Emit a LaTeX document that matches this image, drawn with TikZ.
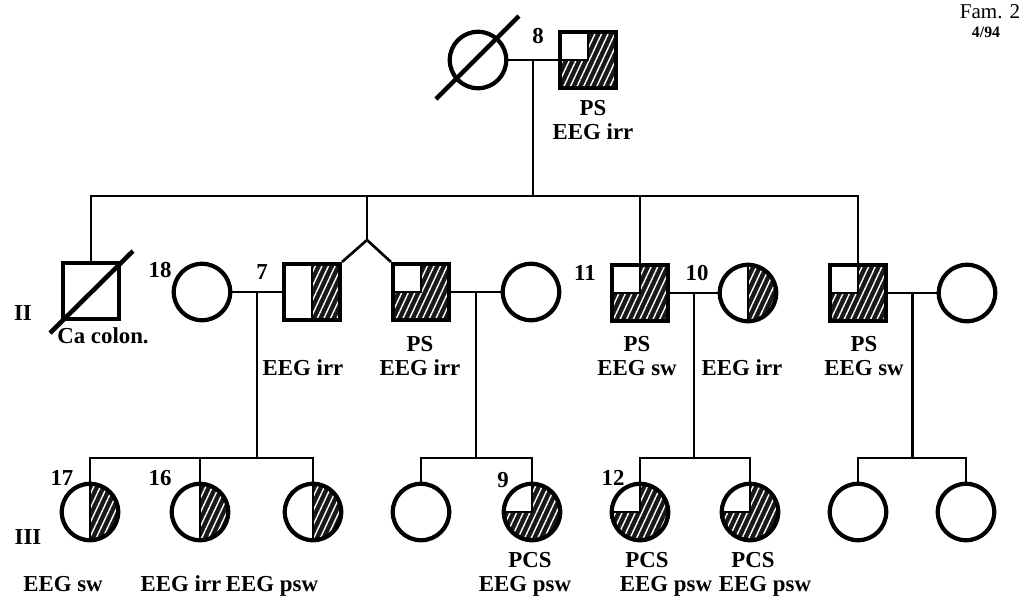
\documentclass[tikz,border=0pt]{standalone}
\usepackage{fontspec}
\setmainfont{Liberation Serif}
\usetikzlibrary{calc, patterns.meta}

\newcommand{\pbb}{path picture bounding box}
\newcommand{\hatchfill}[1]{%
  \fill[black!90] #1;
  \fill[pattern={Lines[angle=65,distance=3.4pt,line width=0.8pt]}, pattern color=white] #1;}

\begin{document}
\begin{tikzpicture}[
    x=0.02cm, y=-0.02cm,
    person/.style={draw, line width=2.4pt, inner sep=0pt, fill=white},
    male/.style={person, rectangle, minimum size=1.12cm},
    female/.style={person, circle, minimum size=1.13cm},
    quarter/.style={path picture={
        \hatchfill{(\pbb.south west) rectangle (\pbb.north east)}
        \fill[white] (\pbb.north west) rectangle (\pbb.center);
        \draw[line width=1.4pt] (\pbb.north) |- (\pbb.west);}},
    half/.style={path picture={
        \hatchfill{(\pbb.south) rectangle (\pbb.north east)}
        \draw[line width=1.4pt] (\pbb.north) -- (\pbb.south);}},
    line/.style={line width=1.5pt},
    slash/.style={line width=2.6pt},
    lbl/.style={font=\fontsize{13}{14}\selectfont\bfseries, inner sep=0pt, align=center},
  ]
  \useasboundingbox (0,0) rectangle (1029,603);

  % generation I
  \node[female] (g1f) at (478,60) {};
  \node[male, quarter] (g1m) at (588,60) {};
  \draw[slash] ($(g1f)+(-42,39)$) -- ($(g1f)+(41,-44)$);
  \node[lbl] (n8) at (538,36) {8};
  \node[lbl] (g1mtxt) at (593,120) {PS\\EEG irr};
  \node[font=\fontsize{12}{12}\selectfont, inner sep=0pt] (fam) at (990,12) {Fam. 2};
  \node[lbl, font=\fontsize{9}{9}\selectfont\bfseries] (famdate) at (986,32) {4/94};

  \draw[line] (g1f.east) -- (g1m.west);
  \coordinate (m1) at ($(g1f.east)!0.5!(g1m.west)$);
  \coordinate (k1) at (m1 |- 0,196);
  \draw[line] (m1) -- (k1);

  % generation II
  \node[lbl] (gII) at (23,313) {II};
  \node[male] (c1) at (91,291) {};
  \draw[slash] ($(c1)+(-41,42)$) -- ($(c1)+(42,-40)$);
  \node[lbl] (c1txt) at (103,336) {Ca colon.};
  \node[female] (w18) at (202,292) {};
  \node[lbl] (n18) at (160,270) {18};
  \node[lbl] (n7) at (262,272) {7};
  \node[male, half] (t1) at (312,292) {};
  \node[male, quarter] (t2) at (421,292) {};
  \node[female] (w2) at (531,292) {};
  \node[lbl] (n11) at (585,273) {11};
  \node[male, quarter] (s11) at (640,293) {};
  \node[lbl] (n10) at (697,273) {10};
  \node[female, half] (w10) at (748,293) {};
  \node[male, quarter] (s5) at (858,293) {};
  \node[female] (w5) at (967,293) {};

  \node[lbl] (t1txt) at (303,368) {EEG irr};
  \node[lbl] (t2txt) at (420,356) {PS\\EEG irr};
  \node[lbl] (s11txt) at (637,356) {PS\\EEG sw};
  \node[lbl] (w10txt) at (742,368) {EEG irr};
  \node[lbl] (s5txt) at (864,356) {PS\\EEG sw};

  \draw[line] (c1.north) |- (k1) -| (s5.north);
  \draw[line] (s11.north) -- (s11.north |- k1);
  \coordinate (tw) at (367,240);
  \draw[line] (tw |- k1) -- (tw);
  \draw[line] (t1.north east) -- (tw) -- (t2.north west);

  \draw[line] (w18.east) -- (t1.west);
  \coordinate (m7) at ($(w18.east)!0.5!(t1.west)$);
  \draw[line] (t2.east) -- (w2.west);
  \coordinate (m2) at ($(t2.east)!0.5!(w2.west)$);
  \draw[line] (s11.east) -- (w10.west);
  \coordinate (m11) at ($(s11.east)!0.5!(w10.west)$);
  \draw[line] (s5.east) -- (w5.west);
  \coordinate (m5) at ($(s5.east)!0.5!(w5.west)$);
  \coordinate (k7) at (m7 |- 0,458);
  \coordinate (k2) at (m2 |- 0,458);
  \coordinate (k11) at (m11 |- 0,458);
  \coordinate (k5) at (m5 |- 0,458);
  \draw[line] (m7) -- (k7);
  \draw[line] (m2) -- (k2);
  \draw[line] (m11) -- (k11);

  % generation III
  \node[lbl] (gIII) at (28,537) {III};
  \node[female, half] (d17) at (90,512) {};
  \node[female, half] (d16) at (200,512) {};
  \node[female, half] (d3) at (313,512) {};
  \node[female] (d4) at (421,512) {};
  \node[female, quarter] (d9) at (532,512) {};
  \node[female, quarter] (d12) at (640,512) {};
  \node[female, quarter] (d13) at (750,512) {};
  \node[female] (d14) at (858,512) {};
  \node[female] (d15) at (966,512) {};
  \node[lbl] (n17) at (62,478) {17};
  \node[lbl] (n16) at (160,478) {16};
  \node[lbl] (n9) at (503,480) {9};
  \node[lbl] (n12) at (613,478) {12};

  \draw[line] (d17.north) |- (k7) -| (d3.north);
  \draw[line] (d16.north) -- (d16.north |- k7);
  \draw[line] (d4.north) |- (k2) -| (d9.north);
  \draw[line] (d12.north) |- (k11) -| (d13.north);
  \draw[line] (m5) -- (k5);
  \draw[line] (d14.north) |- (k5) -| (d15.north);

  \node[lbl, anchor=base] (d17txt) at (63,591) {EEG sw};
  \node[lbl, anchor=base] (d16txt) at (181,591) {EEG irr};
  \node[lbl, anchor=base] (d3txt) at (272,591) {EEG psw};
  \node[lbl, anchor=base] (d9pcs) at (530,567) {PCS};
  \node[lbl, anchor=base] (d9txt) at (525,591) {EEG psw};
  \node[lbl, anchor=base] (d12pcs) at (647,567) {PCS};
  \node[lbl, anchor=base] (d13pcs) at (753,567) {PCS};
  \node[lbl, anchor=base] (d12txt) at (666,591) {EEG psw};
  \node[lbl, anchor=base] (d13txt) at (765,591) {EEG psw};
\end{tikzpicture}
\end{document}
